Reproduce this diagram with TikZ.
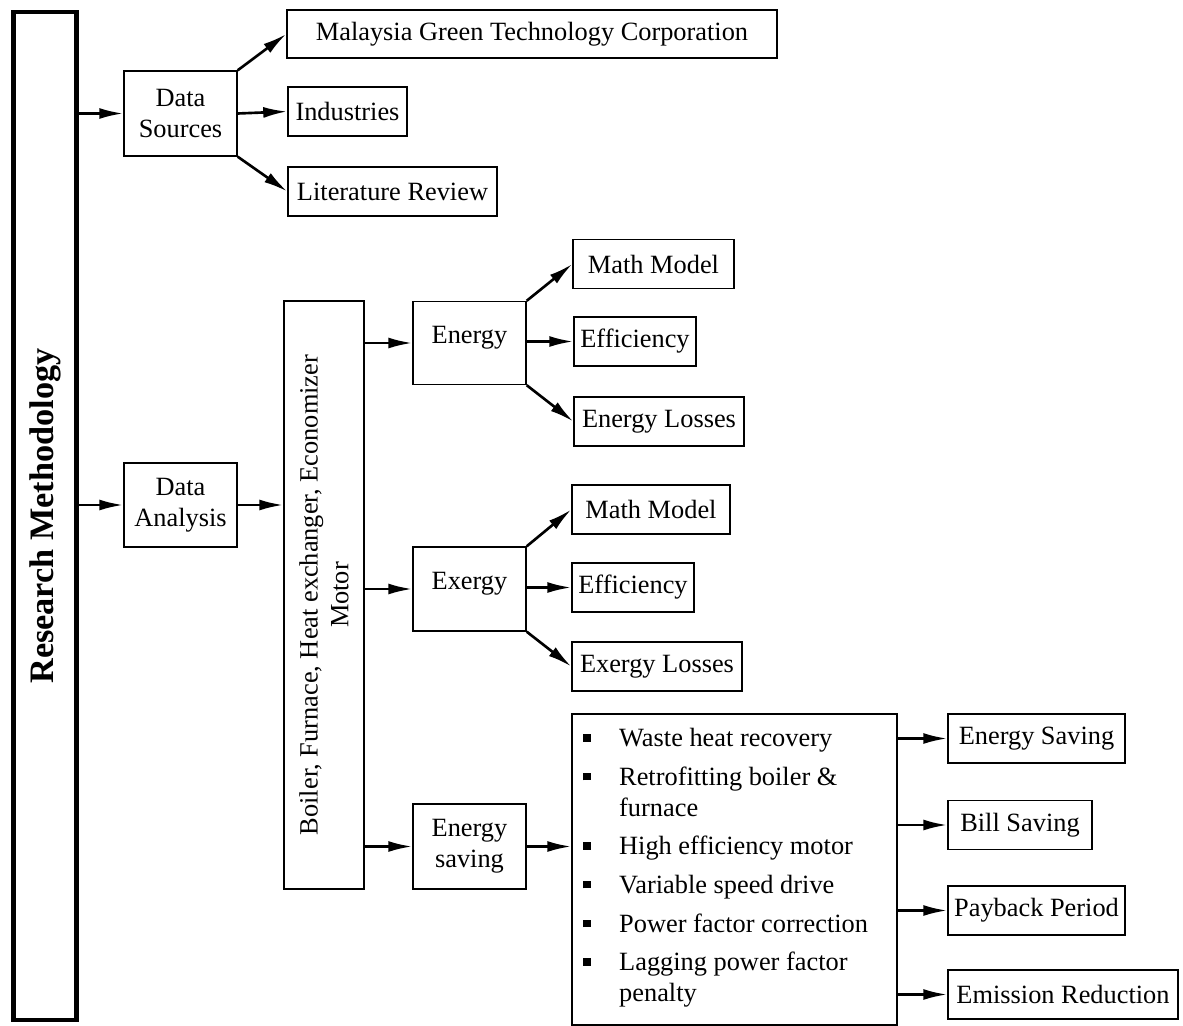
\documentclass[tikz,border=0pt]{standalone}
\usepackage{fontspec}
\setmainfont{Liberation Serif}
\usetikzlibrary{arrows.meta}

\tikzset{
  box/.style={draw, line width=0.8pt, inner sep=0pt, align=center},
  link/.style={line width=1.5pt, -{Latex[length=4.8mm,width=2.2mm]}},
}
\newcommand{\sqbullet}{\raisebox{3pt}{\rule{4.2pt}{4.2pt}}}

\begin{document}
\begin{tikzpicture}[x=0.2mm, y=-0.2mm, font=\fontsize{15}{17.5}\selectfont]
    \useasboundingbox (0,0) rectangle (1183,1026);

    % Left bar
    \node[draw, line width=2.3pt, rotate=90, minimum width=20.16cm, minimum height=1.26cm,
          font=\fontsize{19.5}{22}\selectfont\bfseries] (method) at (45,516) {Research Methodology};

    % Data sources
    \node[box, minimum width=2.26cm, minimum height=1.7cm] (sources) at (180.5,113.5) {Data\\Sources};
    \node[box, minimum width=9.8cm, minimum height=0.96cm] (mgtc) at (532,34) {Malaysia Green Technology Corporation};
    \node[box, minimum width=2.38cm, minimum height=0.98cm] (industries) at (347.5,111.5) {Industries};
    \node[box, minimum width=4.18cm, minimum height=0.98cm] (literature) at (392.5,191.5) {Literature Review};

    % Data analysis
    \node[box, minimum width=2.26cm, minimum height=1.68cm] (analysis) at (180.5,505) {Data\\Analysis};
    \node[box, rotate=90, minimum width=11.76cm, minimum height=1.6cm] (equipment) at (324,595)
        {Boiler, Furnace, Heat exchanger, Economizer\\Motor};

    % Energy
    \node[box, minimum width=2.26cm, minimum height=1.66cm, text height=10pt, text depth=10pt] (energy) at (469.5,343) {Energy};
    \node[box, minimum width=3.22cm, minimum height=0.98cm] (modelA) at (653.5,264) {Math Model};
    \node[box, minimum width=2.44cm, minimum height=0.98cm] (efficA) at (635,341.5) {Efficiency};
    \node[box, minimum width=3.4cm, minimum height=0.98cm] (lossA) at (659,421.5) {Energy Losses};

    % Exergy
    \node[box, minimum width=2.26cm, minimum height=1.68cm, text height=10pt, text depth=10pt] (exergy) at (469.5,589) {Exergy};
    \node[box, minimum width=3.16cm, minimum height=0.98cm] (modelB) at (651,509.5) {Math Model};
    \node[box, minimum width=2.44cm, minimum height=0.98cm] (efficB) at (633,587.5) {Efficiency};
    \node[box, minimum width=3.4cm, minimum height=0.98cm] (lossB) at (657,666.5) {Exergy Losses};

    % Energy saving
    \node[box, minimum width=2.26cm, minimum height=1.7cm] (saving) at (469.5,846.5) {Energy\\saving};
    \node[box, minimum width=6.5cm, minimum height=6.22cm] (measures) at (734.5,869.5) {};
    \node[inner sep=0pt, anchor=north west] (measurelist) at (583,725)
        {\begin{tabular}{@{}l@{\hspace{16.2pt}}l@{}}
         \sqbullet & Waste heat recovery\\[4.5pt]
         \sqbullet & Retrofitting boiler \&\\
                   & furnace\\[4.5pt]
         \sqbullet & High efficiency motor\\[4.5pt]
         \sqbullet & Variable speed drive\\[4.5pt]
         \sqbullet & Power factor correction\\[4.5pt]
         \sqbullet & Lagging power factor\\
                   & penalty
         \end{tabular}};
    \node[box, minimum width=3.54cm, minimum height=0.98cm] (esaving) at (1036.5,738.5) {Energy Saving};
    \node[box, minimum width=2.88cm, minimum height=0.98cm] (bill) at (1020,825) {Bill Saving};
    \node[box, minimum width=3.54cm, minimum height=0.98cm] (payback) at (1036.5,910.5) {Payback Period};
    \node[box, minimum width=4.6cm, minimum height=0.98cm] (emission) at (1063,994.5) {Emission Reduction};

    % Connectors
    \draw[link] (sources.west -| method.south) -- (sources.west);
    \draw[link] (analysis.west -| method.south) -- (analysis.west);
    \draw[link] (sources.north east) -- (mgtc.west);
    \draw[link] (sources.east) -- (industries.west);
    \draw[link] (sources.south east) -- (literature.west);
    \draw[link] (analysis.east) -- (analysis.east -| equipment.north);
    \draw[link] (energy.west -| equipment.south) -- (energy.west);
    \draw[link] (exergy.west -| equipment.south) -- (exergy.west);
    \draw[link] (saving.west -| equipment.south) -- (saving.west);
    \draw[link] (energy.north east) -- (modelA.west);
    \draw[link] (efficA.west -| energy.east) -- (efficA.west);
    \draw[link] (energy.south east) -- (lossA.west);
    \draw[link] (exergy.north east) -- (modelB.west);
    \draw[link] (efficB.west -| exergy.east) -- (efficB.west);
    \draw[link] (exergy.south east) -- (lossB.west);
    \draw[link] (saving.east) -- (saving.east -| measures.west);
    \draw[link] (esaving.west -| measures.east) -- (esaving.west);
    \draw[link] (bill.west -| measures.east) -- (bill.west);
    \draw[link] (payback.west -| measures.east) -- (payback.west);
    \draw[link] (emission.west -| measures.east) -- (emission.west);
\end{tikzpicture}
\end{document}
